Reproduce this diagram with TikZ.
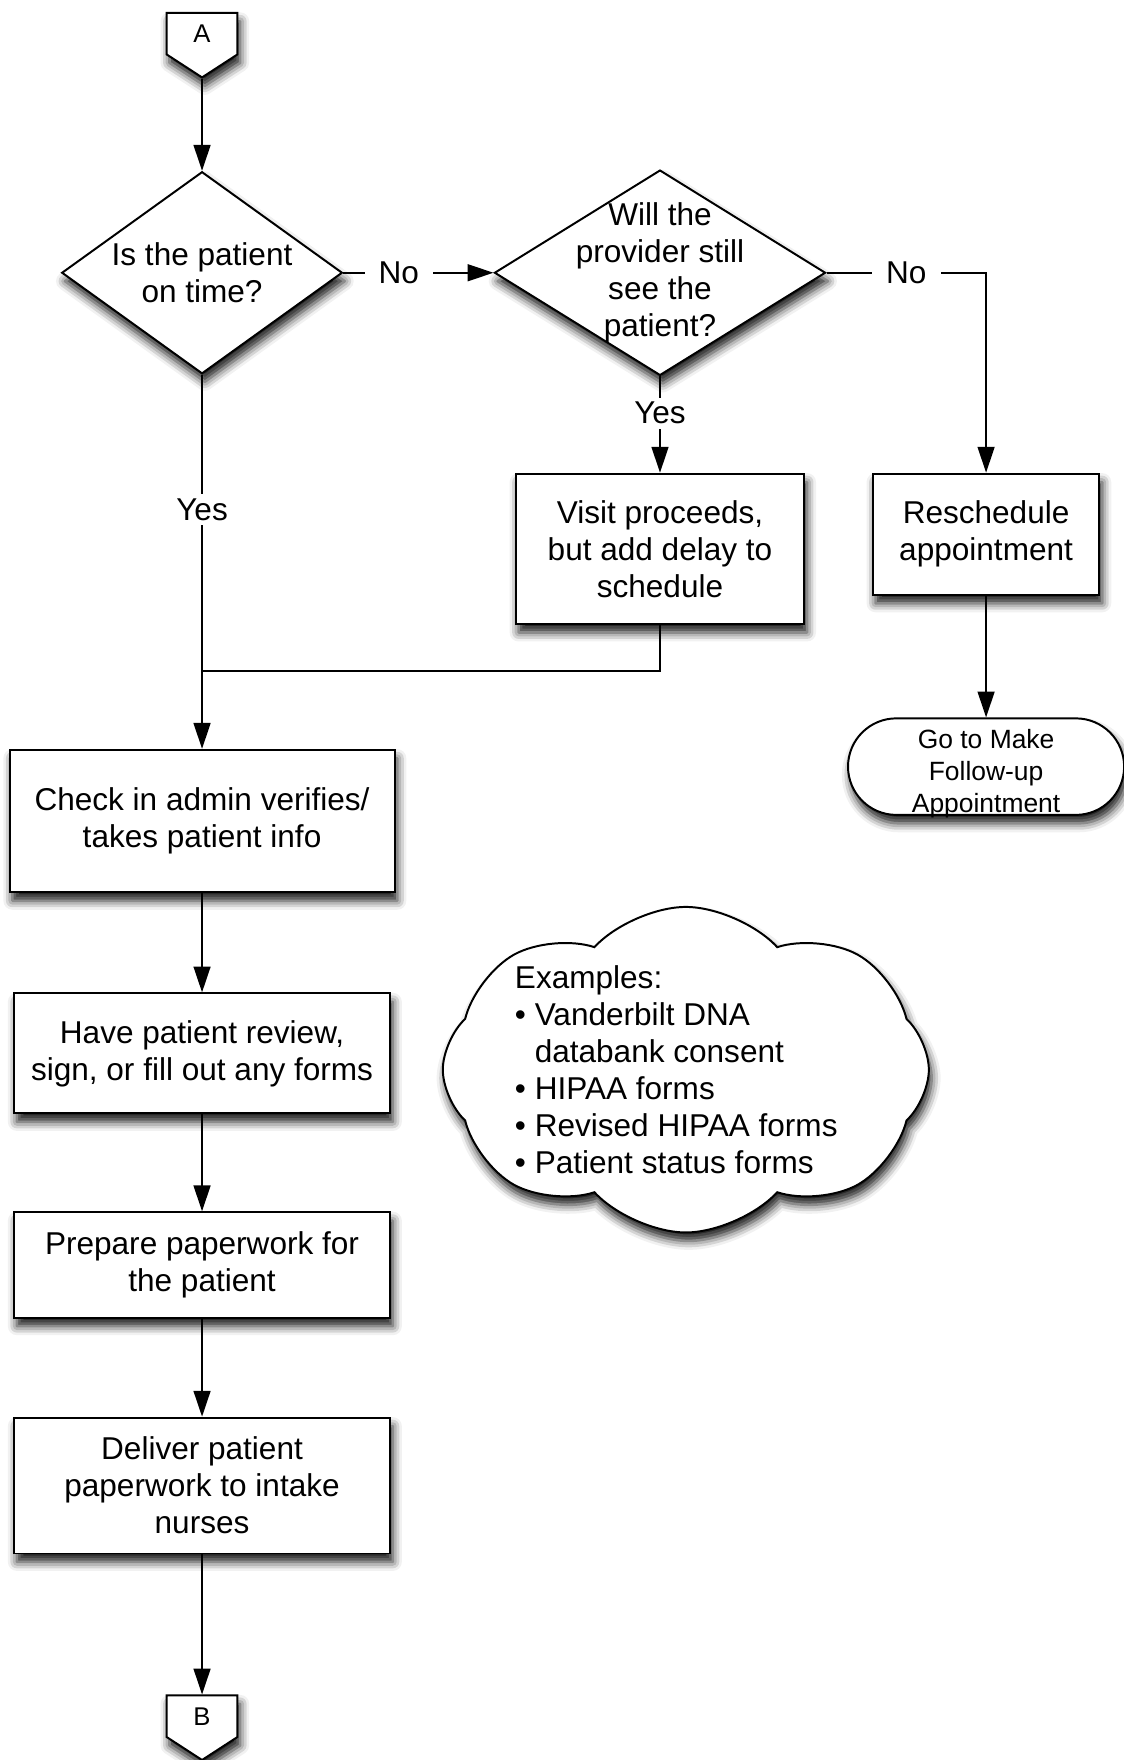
\documentclass[tikz,border=0pt]{standalone}
\usepackage{fontspec}
\setmainfont{Liberation Sans}
\usepackage{tikz}
\usetikzlibrary{shapes.geometric}
\usetikzlibrary{shapes.symbols}
\usetikzlibrary{shapes.misc}
\usetikzlibrary{arrows.meta}
\usetikzlibrary{shadows.blur}

\newcommand{\boxfont}{\fontsize{16}{18.8}\selectfont}
\newcommand{\termfont}{\fontsize{13.4}{16.2}\selectfont}
\newcommand{\pagefont}{\fontsize{13}{15}\selectfont}

\begin{document}
\begin{tikzpicture}
    \tikzstyle{edge}  = [line width=1pt,draw=black]
    \tikzstyle{dedge} = [line width=1pt,-{Triangle[length=0.46cm,width=0.3cm]},draw=black]
    \tikzstyle{softshadow}=[
      blur shadow={shadow xshift=0.05cm,shadow yshift=-0.15cm,shadow blur radius=0.16cm,shadow opacity=90},
    ]
    \tikzstyle{block}=[
      softshadow,
      rectangle,
      draw=black,
      line width=1pt,
      fill=white,
      align=center,
      font=\boxfont,
      inner sep=0pt,
    ]
    \tikzstyle{decision}=[
      block,
      diamond,
    ]
    \tikzstyle{terminal}=[
      block,
      rounded rectangle,
    ]
    \tikzstyle{note}=[
      block,
      cloud,
      cloud puffs=8,
      cloud puff arc=95,
      cloud ignores aspect,
    ]
    \tikzstyle{offpage}=[
      block,
      signal,
      signal to=south,
      signal from=nowhere,
      signal pointer angle=114,
      minimum width=1.26cm,
      minimum height=0.84cm,
      font=\pagefont,
    ]
    \tikzstyle{tag}=[
      fill=white,
      inner xsep=0.25cm,
      inner ysep=0.08cm,
      font=\boxfont,
    ]

    \useasboundingbox (0,0) rectangle (20.02,-31.36);

    \coordinate (leftAnchor) at (3.6,0);
    \coordinate (midAnchor) at (11.76,0);
    \coordinate (rightAnchor) at (17.57,0);

    % late arrival check
    {
      \node[offpage] (pageA) at ([yshift=-0.6cm] leftAnchor) {A};

      \node[decision, minimum width=5.0cm, minimum height=3.6cm,
        label={[align=center,font=\boxfont]center:Is the patient\\on time?}] (onTime) at ([yshift=-4.86cm] leftAnchor) {};
      \node[decision, minimum width=5.9cm, minimum height=3.66cm,
        label={[align=center,font=\boxfont]center:Will the\\provider still\\see the\\patient?}] (stillSee) at ([yshift=-4.86cm] midAnchor) {};

      \node[block, minimum width=5.14cm, minimum height=2.68cm] (visit) at ([yshift=-9.78cm] midAnchor) {Visit proceeds,\\but add delay to\\schedule};
      \node[block, minimum width=4.04cm, minimum height=2.16cm] (resched) at ([yshift=-9.52cm] rightAnchor) {Reschedule\\appointment};
      \node[terminal, minimum width=4.92cm, minimum height=1.72cm,
        label={[align=center,font=\termfont,yshift=-0.12cm]center:Go to Make\\Follow-up\\Appointment}] (followUp) at ([yshift=-13.66cm] rightAnchor) {};

      \coordinate (join) at ([yshift=-11.96cm] leftAnchor);

      \draw[dedge] (pageA.south)--(onTime.north);
      \draw[dedge] (onTime.east)-- node[tag,pos=0.37] {No} (stillSee.west);
      \draw[dedge] (stillSee.south)-- node[tag,pos=0.38] {Yes} (visit.north);
      \draw[dedge] (stillSee.east) -| node[tag,pos=0.25] {No} (resched.north);
      \draw[dedge] (resched.south)--(followUp.north);
      \draw[edge] (visit.south) |- (join);
    }

    % front desk
    {
      \node[block, minimum width=6.86cm, minimum height=2.54cm] (checkIn) at ([yshift=-14.63cm] leftAnchor) {Check in admin verifies/\\takes patient info};
      \node[block, minimum width=6.7cm, minimum height=2.14cm] (forms) at ([yshift=-18.77cm] leftAnchor) {Have patient review,\\sign, or fill out any forms};
      \node[block, minimum width=6.7cm, minimum height=1.88cm] (paperwork) at ([yshift=-22.54cm] leftAnchor) {Prepare paperwork for\\the patient};
      \node[block, minimum width=6.7cm, minimum height=2.42cm] (deliver) at ([yshift=-26.47cm] leftAnchor) {Deliver patient\\paperwork to intake\\nurses};
      \node[offpage] (pageB) at ([yshift=-30.58cm] leftAnchor) {B};

      \draw[dedge] (onTime.south)-- node[tag,pos=0.36] {Yes} (checkIn.north);
      \draw[dedge] (checkIn.south)--(forms.north);
      \draw[dedge] (forms.south)--(paperwork.north);
      \draw[dedge] (paperwork.south)--(deliver.north);
      \draw[dedge] (deliver.south)--(pageB.north);
    }

    % form examples
    {
      \node[note, minimum width=8.66cm, minimum height=5.8cm,
        label={[align=left,font=\boxfont,xshift=-0.17cm]center:Examples:\\• Vanderbilt DNA\\\phantom{• }databank consent\\• HIPAA forms\\• Revised HIPAA forms\\• Patient status forms}] (examples) at (12.22,-19.06) {};
    }
\end{tikzpicture}
\end{document}
